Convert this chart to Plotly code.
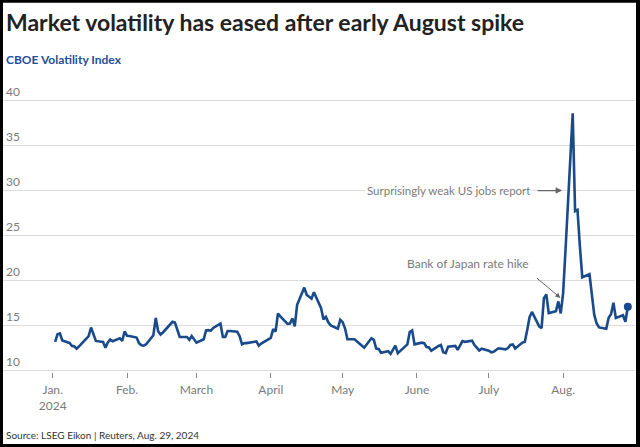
import plotly.graph_objects as go

dates = [
    "2024-01-02","2024-01-03","2024-01-04","2024-01-05","2024-01-08","2024-01-09","2024-01-10","2024-01-11","2024-01-12",
    "2024-01-16","2024-01-17","2024-01-18","2024-01-19","2024-01-22","2024-01-23","2024-01-24","2024-01-25","2024-01-26",
    "2024-01-29","2024-01-30","2024-01-31",
    "2024-02-01","2024-02-02","2024-02-05","2024-02-06","2024-02-07","2024-02-08","2024-02-09","2024-02-12","2024-02-13",
    "2024-02-14","2024-02-15","2024-02-16","2024-02-20","2024-02-21","2024-02-22","2024-02-23","2024-02-26","2024-02-27",
    "2024-02-28","2024-02-29",
    "2024-03-01","2024-03-04","2024-03-05","2024-03-06","2024-03-07","2024-03-08","2024-03-11","2024-03-12","2024-03-13",
    "2024-03-14","2024-03-15","2024-03-18","2024-03-19","2024-03-20","2024-03-21","2024-03-22","2024-03-25","2024-03-26",
    "2024-03-27","2024-03-28",
    "2024-04-01","2024-04-02","2024-04-03","2024-04-04","2024-04-05","2024-04-08","2024-04-09","2024-04-10","2024-04-11",
    "2024-04-12","2024-04-15","2024-04-16","2024-04-17","2024-04-18","2024-04-19","2024-04-22","2024-04-23","2024-04-24",
    "2024-04-25","2024-04-26","2024-04-29","2024-04-30",
    "2024-05-01","2024-05-02","2024-05-03","2024-05-06","2024-05-07","2024-05-08","2024-05-09","2024-05-10","2024-05-13",
    "2024-05-14","2024-05-15","2024-05-16","2024-05-17","2024-05-20","2024-05-21","2024-05-22","2024-05-23","2024-05-24",
    "2024-05-28","2024-05-29","2024-05-30","2024-05-31",
    "2024-06-03","2024-06-04","2024-06-05","2024-06-06","2024-06-07","2024-06-10","2024-06-11","2024-06-12","2024-06-13",
    "2024-06-14","2024-06-17","2024-06-18","2024-06-20","2024-06-21","2024-06-24","2024-06-25","2024-06-26","2024-06-27",
    "2024-06-28",
    "2024-07-01","2024-07-02","2024-07-03","2024-07-05","2024-07-08","2024-07-09","2024-07-10","2024-07-11","2024-07-12",
    "2024-07-15","2024-07-16","2024-07-17","2024-07-18","2024-07-19","2024-07-22","2024-07-23","2024-07-24","2024-07-25",
    "2024-07-26","2024-07-29","2024-07-30","2024-07-31",
    "2024-08-01","2024-08-02","2024-08-05","2024-08-06","2024-08-07","2024-08-08","2024-08-09","2024-08-12","2024-08-13",
    "2024-08-14","2024-08-15","2024-08-16","2024-08-19","2024-08-20","2024-08-21","2024-08-22","2024-08-23","2024-08-26",
    "2024-08-27","2024-08-28",
]

vix = [
    13.20,14.04,14.13,13.35,13.08,12.76,12.69,12.44,12.70,
    13.84,14.79,14.13,13.30,13.19,12.55,13.14,13.45,13.26,
    13.60,13.31,14.35,
    13.88,13.85,13.67,13.06,12.83,12.79,12.93,13.93,15.85,
    14.38,14.01,14.24,15.42,15.34,14.54,13.75,13.74,13.43,
    13.84,13.40,
    13.11,13.49,14.46,14.50,14.44,14.74,15.23,13.75,13.75,
    14.40,14.41,14.33,13.82,12.92,13.06,13.06,13.19,13.24,
    12.78,13.01,
    13.65,14.61,14.33,16.35,16.03,15.19,15.22,15.80,14.91,
    17.31,19.23,18.40,18.21,18.00,18.71,16.94,15.69,15.97,
    15.37,15.03,14.67,15.65,
    15.39,14.68,13.49,13.49,13.23,13.00,12.69,12.55,13.60,
    13.42,12.45,12.42,11.99,12.15,11.86,12.29,12.77,11.93,
    12.92,14.28,14.47,12.92,
    13.11,13.06,12.63,12.58,12.22,12.74,12.85,12.04,11.94,
    12.66,12.75,12.30,13.28,13.20,13.33,12.84,12.55,12.24,
    12.44,
    12.22,12.03,12.09,12.48,12.37,12.51,12.85,12.91,12.46,
    13.12,13.19,14.48,15.93,16.52,14.91,14.72,18.04,18.46,
    16.39,16.60,17.69,16.36,
    18.59,23.39,38.57,27.71,27.85,23.79,20.37,20.71,18.12,
    16.19,15.23,14.80,14.65,15.88,16.27,17.55,15.86,16.15,
    15.43,17.11,
]

tick_dates = ["2024-01-01","2024-02-01","2024-03-01","2024-04-01","2024-05-01","2024-06-01","2024-07-01","2024-08-01"]
tick_labels = ["Jan.<br>2024","Feb.","March","April","May","June","July","Aug."]
y_ticks = [10, 15, 20, 25, 30, 35, 40]

W, H = 640, 447
Y_LO, Y_HI = 9.85, 43.5
ML, MR, MT, MB = 3, 5, 69.2, 75
PW, PH = W - ML - MR, H - MT - MB

def px(x):
    return (x - ML) / PW

def py(y):
    return (H - MB - y) / PH

LINE = "#184a8c"
GRAY = "#7a7a7a"
FONT = "Lato"

fig = go.Figure()
fig.add_trace(go.Scatter(x=dates, y=vix, mode="lines",
                         line=dict(color=LINE, width=2.6), hoverinfo="skip", showlegend=False))
fig.add_trace(go.Scatter(x=dates[-1:], y=vix[-1:], mode="markers",
                         marker=dict(color=LINE, size=8), hoverinfo="skip", showlegend=False))

fig.update_layout(
    width=W, height=H,
    margin=dict(l=ML, r=MR, t=MT, b=MB),
    paper_bgcolor="black",
    plot_bgcolor="white",
    font=dict(family=FONT, color=GRAY, size=12),
    xaxis=dict(type="date", range=["2023-12-11 06:00", "2024-08-31"],
               tickvals=tick_dates, ticktext=tick_labels,
               ticks="outside", ticklen=5, tickcolor="#888", tickwidth=1,
               ticklabelstandoff=2,
               showgrid=False, showline=False, zeroline=False,
               tickfont=dict(family=FONT, size=12, color=GRAY)),
    yaxis=dict(range=[Y_LO, Y_HI], tickvals=y_ticks, showgrid=True, gridcolor="#dcdcdc", gridwidth=1.2,
               ticklabelposition="inside top", zeroline=False, showline=False, ticks="",
               tickfont=dict(family=FONT, size=12, color=GRAY)),
    shapes=[dict(type="rect", xref="paper", yref="paper", layer="below",
                 x0=px(3), x1=px(636), y0=py(444), y1=py(3),
                 fillcolor="white", line=dict(width=0))],
)

annos = [
    dict(text="<b>Market volatility has eased after early August spike</b>", x=px(4), y=py(22),
         font=dict(family=FONT, size=23, color="#222222")),
    dict(text="<b>CBOE Volatility Index</b>", x=px(4), y=py(60),
         font=dict(family=FONT, size=12, color="#1f4e9c")),
    dict(text="Source: LSEG Eikon | Reuters, Aug. 29, 2024", x=px(4), y=py(435),
         font=dict(family=FONT, size=10, color="#333333")),
]
for a in annos:
    fig.add_annotation(xref="paper", yref="paper", xanchor="left", yanchor="middle",
                       showarrow=False, **a)

fig.add_annotation(x="2024-07-19", y=30, xref="x", yref="y", xanchor="right", yanchor="middle",
                   text="Surprisingly weak US jobs report", showarrow=False, bgcolor="white",
                   font=dict(family=FONT, size=11.5, color=GRAY))
fig.add_annotation(x="2024-07-31 14:00", y=30, xref="x", yref="y", text="", showarrow=True,
                   ax=-26, ay=0, arrowhead=2, arrowsize=1, arrowwidth=1.3, arrowcolor="#666")
fig.add_annotation(x="2024-07-18 19:00", y=21.86, xref="x", yref="y", xanchor="right", yanchor="middle",
                   text="Bank of Japan rate hike", showarrow=False,
                   font=dict(family=FONT, size=12, color=GRAY))
fig.add_annotation(x="2024-07-30 21:00", y=18.08, xref="x", yref="y", text="", showarrow=True,
                   ax=-25, ay=-21, arrowhead=2, arrowsize=1, arrowwidth=1, arrowcolor="#666")

fig.write_html("out.html")
